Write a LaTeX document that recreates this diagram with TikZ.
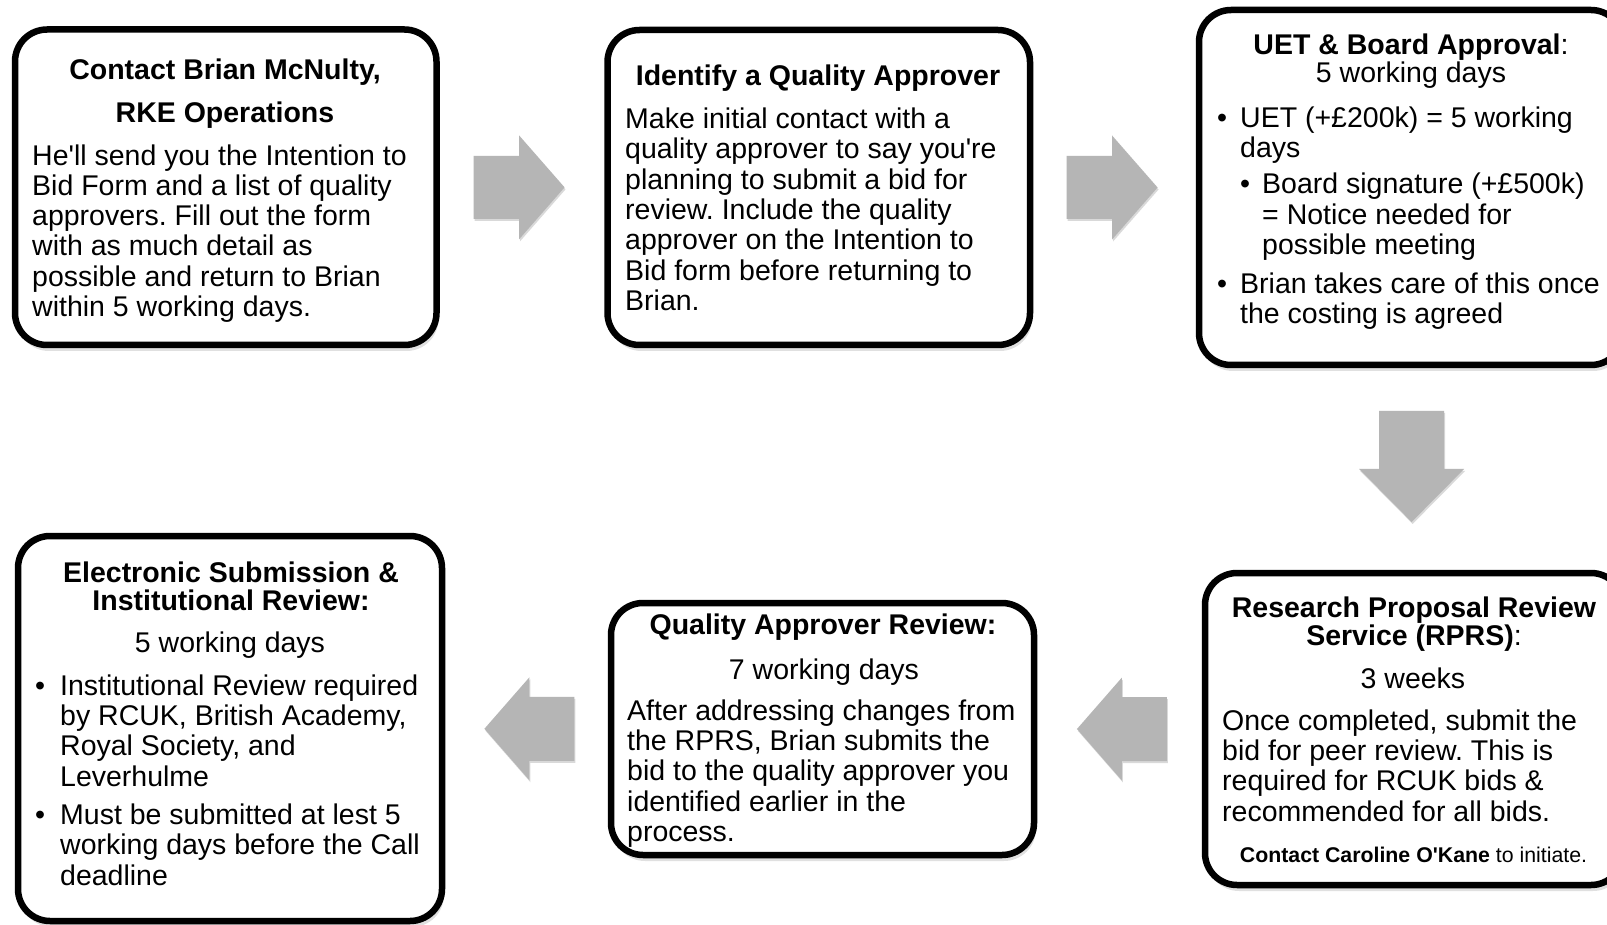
\documentclass[tikz,border=0pt]{standalone}
\usepackage{fontspec}
\setmainfont{Liberation Sans}[Ligatures=TeXOff]
\usetikzlibrary{shadows,calc}
\definecolor{arrowgray}{RGB}{181,181,181}
\frenchspacing
\begin{document}
\begin{tikzpicture}[x=1pt,y=-1pt,
  box/.style={draw=black, line width=6.5pt, rounded corners=32pt, fill=white, inner sep=0pt,
    drop shadow={shadow xshift=2pt, shadow yshift=-6pt, opacity=.12, fill=black},
    drop shadow={shadow xshift=1pt, shadow yshift=-3pt, opacity=.18, fill=black}},
  txt/.style={inner sep=0pt, font=\fontsize{28.5}{30.3}\selectfont, align=left, anchor=base west},
  ttl/.style={inner sep=0pt, font=\fontsize{28.5}{30.3}\selectfont, align=center, anchor=base},
  ttlb/.style={inner sep=0pt, font=\fontsize{28.5}{30.3}\selectfont\bfseries, align=center, anchor=base},
  small/.style={inner sep=0pt, font=\fontsize{21.3}{24}\selectfont, anchor=base},
  blockarrow/.style={fill=arrowgray,
    drop shadow={shadow xshift=1pt, shadow yshift=-2pt, opacity=.15, fill=black}},
  rarr/.pic={\fill[blockarrow] (-45.5,-31.5) -- (0,-31.5) -- (0,-52) -- (45.5,0) -- (0,52) -- (0,31.5) -- (-45.5,31.5) -- cycle;},
  larr/.pic={\fill[blockarrow] (45,-32) -- (0,-32) -- (0,-51.5) -- (-45,0) -- (0,51.5) -- (0,32) -- (45,32) -- cycle;},
  darr/.pic={\fill[blockarrow] (-32.5,0) -- (-32.5,58) -- (-52.5,58) -- (0,111) -- (52.5,58) -- (32.5,58) -- (32.5,0) -- cycle;}
]
\useasboundingbox (0,0) rectangle (1607,925);
\fill[white] (0,0) rectangle (1607,925);
\clip (0,0) rectangle (1607,925);

% boxes
\node[box, minimum width=421.5pt, minimum height=315.5pt] (n1) at (225.75,187.25) {};
\node[box, minimum width=422.5pt, minimum height=315pt] (n2) at (818.75,187.5) {};
\node[box, minimum width=424pt, minimum height=355pt] (n3) at (1411,187.5) {};
\node[box, minimum width=418pt, minimum height=312pt] (n4) at (1414,729) {};
\node[box, minimum width=423pt, minimum height=252pt] (n5) at (822.5,729) {};
\node[box, minimum width=424pt, minimum height=385pt] (n6) at (230,728.5) {};

% (the base anchor of a multi-line node is the baseline of its last line)
% box 1
\node[ttlb] (t1) at (225,123) {Contact Brian McNulty,\\[12.7pt]RKE Operations};
\node[txt] (b1) at (32,316.5) {He'll send you the Intention to\\Bid Form and a list of quality\\approvers. Fill out the form\\with as much detail as\\possible and return to Brian\\within 5 working days.};

% box 2
\node[ttlb] (t2) at (818,86) {Identify a Quality Approver};
\node[txt] (b2) at (625,310.5) {Make initial contact with a\\quality approver to say you're\\planning to submit a bid for\\review. Include the quality\\approver on the Intention to\\Bid form before returning to\\Brian.};

% box 3
\node[ttl] (t3) at (1411,83) {\textbf{UET \& Board Approval}:\\[-2.3pt]5 working days};
\node[txt] (b3) at (1240,324) {\llap{•\hspace{13pt}}UET (+£200k) = 5 working\\days\\[5.7pt]\hspace*{22pt}\llap{•\hspace{12pt}}Board signature (+£500k)\\\hspace*{22pt}= Notice needed for\\\hspace*{22pt}possible meeting\\[9pt]\llap{•\hspace{13pt}}Brian takes care of this once\\the costing is agreed};

% box 4
\node[ttlb] (t4) at (1414,645) {Research Proposal Review\\[-2.3pt]Service (RPRS)\textmd{:}};
\node[ttl] (d4) at (1413,688) {3 weeks};
\node[txt] (b4) at (1222,821) {Once completed, submit the\\bid for peer review. This is\\required for RCUK bids \&\\recommended for all bids.};
\node[small] (c4) at (1413.5,862) {\textbf{Contact Caroline O'Kane} to initiate.};

% box 5
\node[ttlb] (t5) at (823,634) {Quality Approver Review:};
\node[ttl] (d5) at (824,679) {7 working days};
\node[txt] (b5) at (627,841.5) {After addressing changes from\\the RPRS, Brian submits the\\bid to the quality approver you\\identified earlier in the\\process.};

% box 6
\node[ttlb] (t6) at (231,610) {Electronic Submission \&\\[-2.3pt]Institutional Review:};
\node[ttl] (d6) at (230,652) {5 working days};
\node[txt] (b6) at (60,885) {\llap{•\hspace{15pt}}Institutional Review required\\by RCUK, British Academy,\\Royal Society, and\\Leverhulme\\[8pt]\llap{•\hspace{15pt}}Must be submitted at lest 5\\working days before the Call\\deadline};

% block arrows
\pic at ($(n1.east)!.482!(n2.west)$) {rarr};
\pic at ($(n2.east)!.485!(n3.west)$) {rarr};
\pic at ($(n3.south)!.212!(n4.north)$) {darr};
\pic at ($(n4.west)!.485!(n5.east)$) {larr};
\pic at ($(n5.west)!.482!(n6.east)$) {larr};
\end{tikzpicture}
\end{document}
